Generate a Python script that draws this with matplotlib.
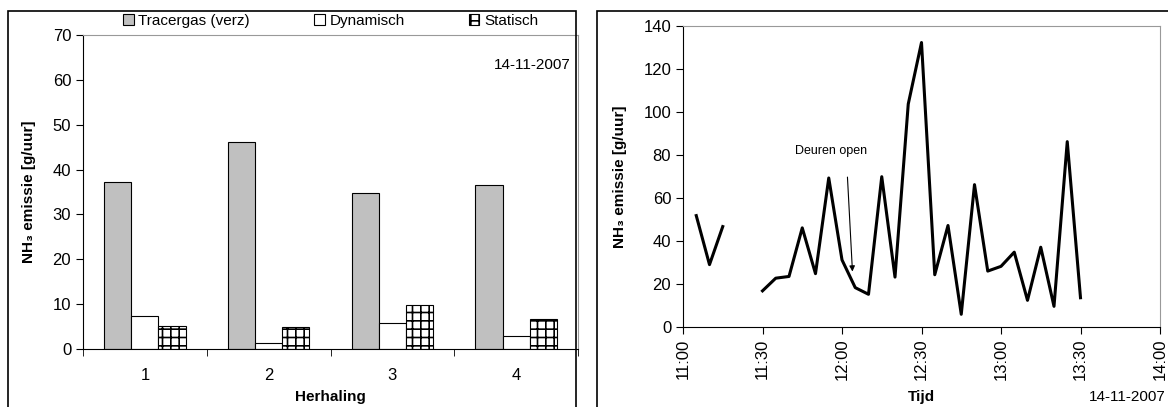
import numpy as np
import pandas as pd
import matplotlib
matplotlib.use('Agg')
import matplotlib.pyplot as plt
import matplotlib.dates as mdates
from matplotlib.patches import Rectangle

plt.rcParams['font.family'] = ['Liberation Sans', 'DejaVu Sans']
plt.rcParams['hatch.linewidth'] = 1.2

# left chart: emissie per herhaling
herhaling = ['1', '2', '3', '4']
tracergas = [37.2, 46.2, 34.8, 36.5]
dynamisch = [7.4, 1.3, 5.9, 3.0]
statisch = [5.2, 5.0, 9.7, 6.7]

# right chart: tracergas meting over de tijd (NaN = geen meting)
tijden = ['11:05', '11:10', '11:15', '11:20', '11:25', '11:30', '11:35', '11:40',
          '11:45', '11:50', '11:55', '12:00', '12:05', '12:10', '12:15', '12:20',
          '12:25', '12:30', '12:35', '12:40', '12:45', '12:50', '12:55', '13:00',
          '13:05', '13:10', '13:15', '13:20', '13:25', '13:30']
emissie = [51.8, 29.0, 46.7, np.nan, np.nan, 16.8, 22.7, 23.5,
           46.1, 24.8, 69.3, 31.2, 18.3, 15.2, 69.9, 23.2,
           103.7, 132.3, 24.3, 47.2, 5.9, 66.2, 26.0, 28.2,
           34.8, 12.4, 37.1, 9.6, 86.2, 13.6]
tick_tijden = ['11:00', '11:30', '12:00', '12:30', '13:00', '13:30', '14:00']

datum = '14-11-2007'
ylabel = 'NH\u2083 emissie [g/uur]'

fig = plt.figure(figsize=(11.68, 4.07), dpi=100)

# chart area borders (Excel style), partly cut off by the image edge
fig.patches.append(Rectangle((8 / 1168, -0.1), 568 / 1168, 1.1 - 11 / 407,
                             transform=fig.transFigure, fill=False,
                             edgecolor='black', linewidth=1.2))
fig.patches.append(Rectangle((597 / 1168, -0.1), 0.6, 1.1 - 11 / 407,
                             transform=fig.transFigure, fill=False,
                             edgecolor='black', linewidth=1.2))

# ---- left: bar chart
ax1 = fig.add_axes([83 / 1168, 0.1425, 495 / 1168, 0.7715])
x = np.arange(len(herhaling))
w = 0.22
ax1.bar(x - w, tracergas, w, color='#c0c0c0', edgecolor='black', linewidth=0.8,
        label='Tracergas (verz)')
ax1.bar(x, dynamisch, w, color='white', edgecolor='black', linewidth=0.8,
        label='Dynamisch')
ax1.bar(x + w, statisch, w, color='white', edgecolor='black', linewidth=0.8,
        hatch='++', label='Statisch')
ax1.set_xlim(-0.5, 3.5)
ax1.set_ylim(0, 70)
ax1.set_yticks(range(0, 71, 10))
ax1.set_xticks(x)
ax1.set_xticklabels(herhaling)
ax1.set_xticks(np.arange(-0.5, 4, 1), minor=True)
ax1.tick_params(axis='x', which='major', length=0, labelsize=12, pad=14)
ax1.tick_params(axis='x', which='minor', length=5, direction='out')
ax1.tick_params(axis='y', length=5, direction='out', labelsize=12)
ax1.set_xlabel('Herhaling', fontweight='bold', fontsize=11, labelpad=5)
ax1.set_ylabel(ylabel, fontweight='bold', fontsize=11, labelpad=12)
for s in ['top', 'right']:
    ax1.spines[s].set_color('#999999')
ax1.text(0.985, 0.905, datum, transform=ax1.transAxes, ha='right', va='center',
         fontsize=11)
leg = ax1.legend(loc='center', bbox_to_anchor=(0.5, 1.045), ncol=3,
                 frameon=True, fontsize=11, handlelength=0.7, handleheight=0.7,
                 handletextpad=0.3, columnspacing=4.2, borderpad=0.2)
leg.get_frame().set_edgecolor('none')
leg.get_frame().set_facecolor('white')
leg.get_frame().set_alpha(1)

# ---- right: line chart
dag = '2007-11-14 '
t = pd.to_datetime([dag + s for s in tijden])
ticks = pd.to_datetime([dag + s for s in tick_tijden])
ax2 = fig.add_axes([683 / 1168, 0.1966, 477 / 1168, 0.7396])
ax2.plot(t, emissie, color='black', linewidth=2.2)
ax2.set_xlim(ticks[0], ticks[-1])
ax2.set_ylim(0, 140)
ax2.set_yticks(range(0, 141, 20))
ax2.set_xticks(ticks)
ax2.xaxis.set_major_formatter(mdates.DateFormatter('%H:%M'))
ax2.tick_params(axis='x', length=5, direction='out', labelsize=12,
                labelrotation=90)
ax2.tick_params(axis='y', length=5, direction='out', labelsize=12)
ax2.set_xlabel('Tijd', fontweight='bold', fontsize=11, labelpad=7)
ax2.set_ylabel(ylabel, fontweight='bold', fontsize=11, labelpad=12)
for s in ['top', 'right']:
    ax2.spines[s].set_color('#999999')

ax2.text(pd.Timestamp(dag + '11:56'), 81.7, 'Deuren open', ha='center',
         va='center', fontsize=9)
ax2.annotate('', xy=(pd.Timestamp(dag + '12:04'), 24.5),
             xytext=(pd.Timestamp(dag + '12:02'), 71),
             arrowprops=dict(arrowstyle='-|>', color='black', linewidth=0.8,
                             mutation_scale=8))
fig.text(1166 / 1168, 1 - 397 / 407, datum, ha='right', va='center', fontsize=11)

plt.savefig('out.png', dpi=100)
